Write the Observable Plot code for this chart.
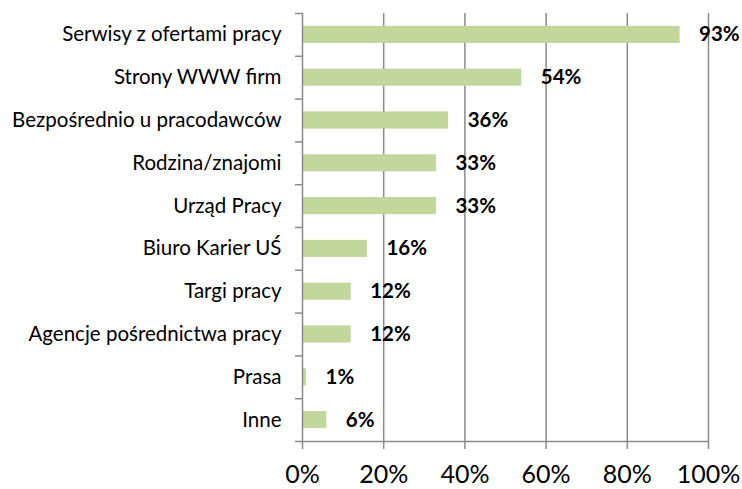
<!DOCTYPE html>
<html>
<head>
<meta charset="utf-8">
<script src="https://cdn.jsdelivr.net/npm/d3@7"></script>
<script src="https://cdn.jsdelivr.net/npm/@observablehq/plot@0.6"></script>
<style>
  html, body { margin: 0; padding: 0; background: #fff; }
  #chart svg { display: block; }
</style>
</head>
<body>
<div id="chart"></div>
<script>
const categories = [
  "Serwisy z ofertami pracy",
  "Strony WWW firm",
  "Bezpośrednio u pracodawców",
  "Rodzina/znajomi",
  "Urząd Pracy",
  "Biuro Karier UŚ",
  "Targi pracy",
  "Agencje pośrednictwa pracy",
  "Prasa",
  "Inne"
];
const values = [93, 54, 36, 33, 33, 16, 12, 12, 1, 6];
const valueLabels = ["93%", "54%", "36%", "33%", "33%", "16%", "12%", "12%", "1%", "6%"];
const xTicks = [0, 20, 40, 60, 80, 100];

const data = categories.map((c, i) => ({ cat: c, v: values[i], label: valueLabels[i], i }));
const boundaries = d3.range(categories.length + 1);

const font = "Lato, 'Open Sans', sans-serif";
const gridColor = "#8a8a8a";

const chart = Plot.plot({
  width: 742,
  height: 489,
  marginLeft: 302,
  marginRight: 34,
  marginTop: 13,
  marginBottom: 48,
  style: { fontFamily: font, color: "#000", background: "#fff" },
  x: { domain: [0, 100], label: null },
  y: { domain: [0, categories.length], reverse: true, label: null },
  marks: [
    Plot.ruleX(xTicks.filter(d => d > 0), { y1: 0, y2: categories.length, stroke: gridColor, strokeWidth: 1.5 }),
    Plot.axisX(xTicks, {
      tickSize: 8, tickPadding: 16, stroke: gridColor, strokeWidth: 1.5,
      tickFormat: d => d + "%", fontSize: 25, fill: "#000", label: null
    }),
    Plot.axisY(boundaries, { tickSize: 7, tickFormat: () => "", stroke: gridColor, strokeWidth: 1.5, label: null }),
    Plot.rectX(data, { x1: 0, x2: "v", y1: d => d.i + 0.3, y2: d => d.i + 0.7, fill: "#c3d69b" }),
    Plot.ruleX([0], { y1: 0, y2: categories.length, stroke: gridColor, strokeWidth: 1.5 }),
    Plot.ruleY([categories.length], { stroke: gridColor, strokeWidth: 1.5 }),
    Plot.text(data, {
      x: 0, y: d => d.i + 0.5, text: "cat", textAnchor: "end", dx: -21,
      fontSize: 20.5, fill: "#000"
    }),
    Plot.text(data, {
      x: "v", y: d => d.i + 0.5, text: "label", textAnchor: "start", dx: 19,
      fontSize: 20.5, fontWeight: "bold", fill: "#000"
    })
  ]
});
document.getElementById("chart").appendChild(chart);
</script>
</body>
</html>
